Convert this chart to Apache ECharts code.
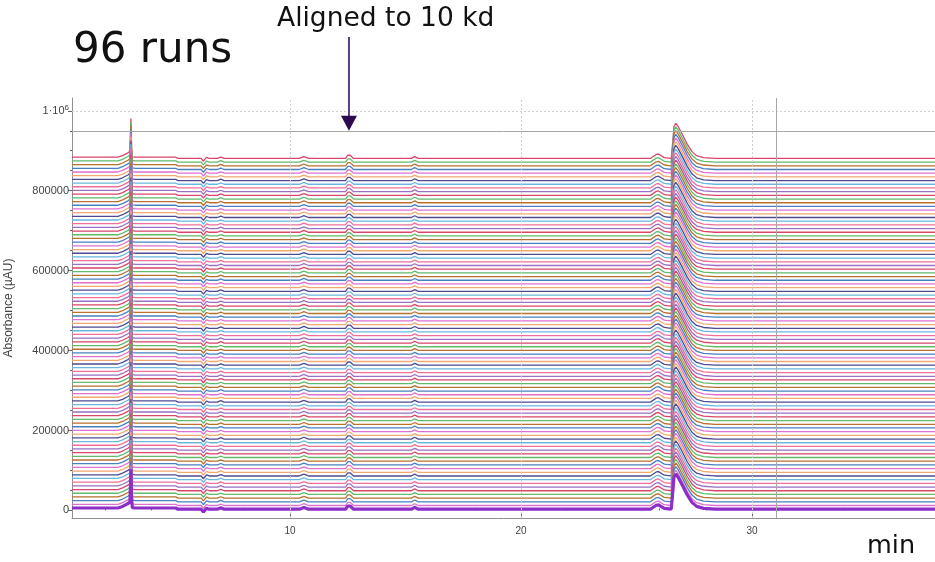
<!DOCTYPE html>
<html>
<head>
<meta charset="utf-8">
<script src="https://cdn.jsdelivr.net/npm/echarts@6/dist/echarts.min.js"></script>
<style>
  html, body { margin: 0; padding: 0; background: #fff; }
  #chart { width: 935px; height: 562px; }
</style>
</head>
<body>
<div id="chart"></div>
<script>
// Chromatogram profile shared by every run: [time (min), absorbance (µAU) above baseline]
const profile = [
  [0.56, 3000], [2.55, 3000], [2.75, 7000], [2.98, 14000], [3.07, 18000],
  [3.11, 100000], [3.14, 30000], [3.17, 4000], [3.3, 3000],
  [5.05, 3000], [5.15, 0],
  [6.15, 0], [6.25, -7000], [6.31, -4000], [6.38, 2500], [6.5, 0],
  [6.85, 0], [7.0, 3500], [7.15, 0],
  [10.4, 0], [10.6, 4500], [10.8, 0],
  [12.4, 0], [12.5, 8000], [12.55, 12000], [12.6, 8000], [12.75, 0],
  [15.25, 0], [15.4, 4500], [15.55, 0],
  [25.6, 0], [25.85, 10000], [25.95, 11000], [26.2, 2000], [26.5, 0],
  [26.55, 30000], [26.62, 80000], [26.7, 88000], [26.8, 80000], [27.0, 58000],
  [27.2, 35000], [27.4, 17000], [27.6, 7000], [27.9, 2000], [28.4, 0],
  [37.92, 0]
];

// Run stacking: number of runs, baseline of run 1 and vertical spacing between runs (µAU)
const runCount = 96;
const firstBaseline = 3000;
const runSpacing = 9240;

// Colour cycle for the stacked runs, listed from the top run downwards; run 1 is heavy purple
const runColors = ['#d9466b', '#62b96c', '#b8702f', '#4a7fc0', '#e070d0',
                   '#f0a870', '#4e4a90', '#6ab8e0', '#f06f9a', '#9a6fc6'];
const firstRunColor = '#8e2ec8';

// Axis ticks and labels
const xLabelValues = [10, 20, 30];
const xMinorValues = [2, 4, 6, 8, 12, 14, 16, 18, 22, 24, 26, 28, 32, 34, 36];
const yLabelValues = [0, 200000, 400000, 600000, 800000, 1000000];
const yMinorValues = [50000, 100000, 150000, 250000, 300000, 350000, 450000, 500000,
                      550000, 650000, 700000, 750000, 850000, 900000, 950000];

// Reference lines
const gridTop = 1000000;     // dotted top grid level
const refTime = 31.06;       // vertical cursor line
const refLevel = 950000;     // horizontal cursor line
const alignedPeakTime = 12.55;

const xMin = 0.56, xMax = 37.92;
const yMin = -19000, yMax = 1032000;

const chart = echarts.init(document.getElementById('chart'), null, { renderer: 'canvas' });

const series = [];
// background guide lines
series.push({
  type: 'line',
  data: [],
  z: 1,
  silent: true,
  markLine: {
    silent: true,
    symbol: 'none',
    label: { show: false },
    animation: false,
    data: [
      ...xLabelValues.map(v => ({ xAxis: v, lineStyle: { color: '#cfcfcf', type: [2, 2], width: 1 } })),
      { yAxis: gridTop, lineStyle: { color: '#cfcfcf', type: [2, 2], width: 1 } },
      { xAxis: refTime, lineStyle: { color: '#a8a8a8', type: 'solid', width: 1 } },
      { yAxis: refLevel, lineStyle: { color: '#a8a8a8', type: 'solid', width: 1 } }
    ]
  }
});

// runs from the top of the stack down, so run 1 is painted last
for (let r = runCount - 1; r >= 0; r--) {
  const base = firstBaseline + r * runSpacing;
  const isFirst = r === 0;
  const fromTop = runCount - 1 - r;
  series.push({
    type: 'line',
    name: 'Run ' + (r + 1),
    showSymbol: false,
    symbol: 'none',
    smooth: false,
    animation: false,
    z: 2,
    lineStyle: {
      width: isFirst ? 3.2 : 1.3,
      color: isFirst ? firstRunColor : runColors[fromTop % runColors.length]
    },
    data: profile.map(p => [p[0], p[1] + base])
  });
}

const axisLabelFont = { fontFamily: 'Liberation Sans', fontSize: 11, color: '#444' };

chart.setOption({
  animation: false,
  backgroundColor: '#ffffff',
  grid: { left: 72, right: 0, top: 98, bottom: 44, containLabel: false, outerBoundsMode: 'none' },
  xAxis: [
    {
      type: 'value', min: xMin, max: xMax,
      axisLine: { show: true, onZero: false, lineStyle: { color: '#909090', width: 1 } },
      axisTick: { show: true, inside: true, length: 5, customValues: xLabelValues, lineStyle: { color: '#666' } },
      axisLabel: { show: true, customValues: xLabelValues, margin: 8, fontFamily: 'Liberation Sans', fontSize: 10, color: '#444' },
      splitLine: { show: false }
    },
    {
      type: 'value', min: xMin, max: xMax, position: 'bottom',
      axisLine: { show: false },
      axisTick: { show: true, inside: true, length: 2, customValues: xMinorValues, lineStyle: { color: '#666' } },
      axisLabel: { show: false },
      splitLine: { show: false }
    }
  ],
  yAxis: [
    {
      type: 'value', min: yMin, max: yMax,
      name: 'Absorbance (µAU)',
      nameLocation: 'middle',
      nameGap: 57,
      nameRotate: 90,
      nameTextStyle: { fontFamily: 'Liberation Sans', fontSize: 12, color: '#444' },
      axisLine: { show: true, onZero: false, lineStyle: { color: '#909090', width: 1 } },
      axisTick: { show: true, inside: false, length: 4, customValues: yLabelValues, lineStyle: { color: '#666' } },
      axisLabel: {
        show: true, customValues: yLabelValues, margin: 3, ...axisLabelFont,
        formatter: v => v === 1000000 ? '{b|1·10}{s|6}' : String(v),
        rich: {
          b: { fontFamily: 'Liberation Sans', fontSize: 11, color: '#444' },
          s: { fontFamily: 'Liberation Sans', fontSize: 8, color: '#444', verticalAlign: 'top', padding: [0, 0, 6, 0] }
        }
      },
      splitLine: { show: false }
    },
    {
      type: 'value', min: yMin, max: yMax, position: 'left',
      axisLine: { show: false },
      axisTick: { show: true, inside: false, length: 2, customValues: yMinorValues, lineStyle: { color: '#666' } },
      axisLabel: { show: false },
      splitLine: { show: false }
    }
  ],
  series: series
});

// Annotations: titles, axis unit and the arrow pointing at the alignment peak
const tip = chart.convertToPixel({ xAxisIndex: 0, yAxisIndex: 0 }, [alignedPeakTime, refLevel]);
chart.setOption({
  graphic: [
    {
      type: 'text', left: 73, top: 30, z: 10,
      style: { text: '96 runs', font: '42px "DejaVu Sans"', fill: '#111' }
    },
    {
      type: 'text', left: 277, top: 6, z: 10,
      style: { text: 'Aligned to 10 kd', font: '26.5px "DejaVu Sans"', fill: '#111' }
    },
    {
      type: 'text', left: 867, top: 533, z: 10,
      style: { text: 'min', font: '25.5px "DejaVu Sans"', fill: '#111' }
    },
    {
      type: 'line', z: 10,
      shape: { x1: tip[0], y1: 37, x2: tip[0], y2: tip[1] - 12 },
      style: { stroke: '#5a3d8a', lineWidth: 2 }
    },
    {
      type: 'polygon', z: 10,
      shape: { points: [[tip[0] - 8, tip[1] - 15], [tip[0] + 8, tip[1] - 15], [tip[0], tip[1]]] },
      style: { fill: '#2a0a50' }
    }
  ]
});
</script>
</body>
</html>
